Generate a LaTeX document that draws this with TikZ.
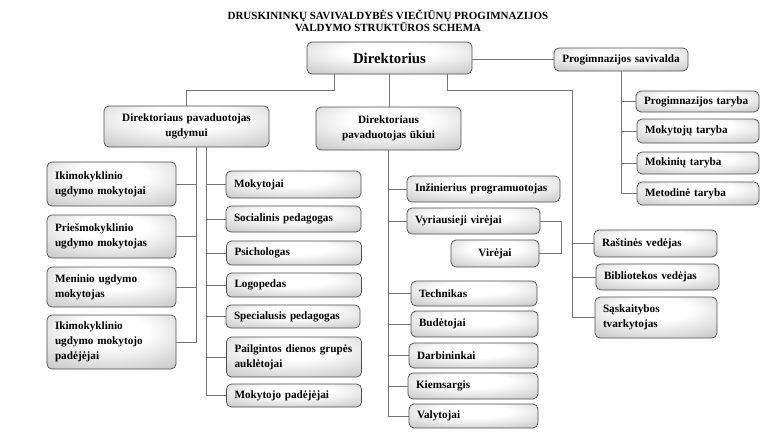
\documentclass[tikz,border=0pt]{standalone}
\usepackage{fontspec}
\setmainfont{Liberation Serif}
\pgfdeclareradialshading{boxshade}{\pgfpoint{0bp}{12bp}}{color(0bp)=(white); color(14bp)=(white); color(38bp)=(black!20); color(55bp)=(black!42); color(100bp)=(black!45)}
\tikzset{
  box/.style={draw=black!70, line width=0.7pt, rounded corners=5pt, shading=boxshade,
    inner xsep=8pt, inner ysep=0pt, font=\bfseries\fontsize{11.2}{15}\selectfont, align=left},
  conn/.style={draw=black!55, line width=0.8pt},
  titletext/.style={font=\bfseries\fontsize{11}{12}\selectfont, align=center}
}
\begin{document}
\begin{tikzpicture}[x=1pt,y=-1pt]
\useasboundingbox (0,0) rectangle (780,437);
\node[titletext] (title) at (388,21) {DRUSKININKŲ SAVIVALDYBĖS VIEČIŪNŲ PROGIMNAZIJOS\\VALDYMO STRUKTŪROS SCHEMA};

% top level
\node[box, text width=149pt, minimum height=32pt, align=center, font=\bfseries\fontsize{14.8}{17}\selectfont] (dir) at (389.5,58) {Direktorius};
\node[box, inner xsep=4pt, text width=126pt, minimum height=23pt, align=center] (sav) at (621,59.5) {Progimnazijos savivalda};

% savivalda
\node[box, text width=107pt, minimum height=21pt] (pt) at (697.5,101.5) {Progimnazijos taryba};
\node[box, text width=106pt, minimum height=24pt] (mt) at (698,131) {Mokytojų taryba};
\node[box, text width=106pt, minimum height=22pt] (mkt) at (698,163) {Mokinių taryba};
\node[box, text width=106pt, minimum height=23pt] (met) at (698,193.5) {Metodinė taryba};

% deputies
\node[box, text width=149pt, minimum height=41pt, align=center] (pu) at (186.5,126.5) {Direktoriaus pavaduotojas\\ugdymui};
\node[box, text width=129pt, minimum height=43pt, align=center] (pk) at (388.5,128.5) {Direktoriaus\\pavaduotojas ūkiui};

% left column
\node[box, text width=113pt, minimum height=44pt] (ik1) at (111.5,184) {Ikimokyklinio\\ugdymo mokytojai};
\node[box, text width=113pt, minimum height=43pt] (ik2) at (111.5,236.5) {Priešmokyklinio\\ugdymo mokytojas};
\node[box, text width=113pt, minimum height=40pt] (men) at (111.5,287) {Meninio ugdymo\\mokytojas};
\node[box, text width=113pt, minimum height=54pt] (ik3) at (111.5,342) {Ikimokyklinio\\ugdymo mokytojo\\padėjėjai};

% right of ugdymui
\node[box, text width=119pt, minimum height=27pt] (mok) at (293.5,184.5) {Mokytojai};
\node[box, text width=119pt, minimum height=26pt] (soc) at (293.5,219) {Socialinis pedagogas};
\node[box, text width=119pt, minimum height=24pt] (psi) at (294,253) {Psichologas};
\node[box, text width=119pt, minimum height=24pt] (log) at (294,285) {Logopedas};
\node[box, text width=118pt, minimum height=23pt] (spe) at (293,316.5) {Specialusis pedagogas};
\node[box, text width=119pt, minimum height=40pt] (pai) at (294,357) {Pailgintos dienos grupės\\auklėtojai};
\node[box, text width=119pt, minimum height=23pt] (mpa) at (294,395.5) {Mokytojo padėjėjai};

% ukiui column
\node[box, text width=137pt, minimum height=26pt] (inz) at (483.5,189) {Inžinierius programuotojas};
\node[box, text width=117pt, minimum height=26pt] (vyr) at (473.5,221) {Vyriausieji virėjai};
\node[box, text width=72pt, minimum height=27pt, align=center] (vir) at (495,253.5) {Virėjai};
\node[box, text width=110pt, minimum height=25pt] (tec) at (474,293.5) {Technikas};
\node[box, text width=111pt, minimum height=26pt] (bud) at (474.5,324) {Budėtojai};
\node[box, text width=113pt, minimum height=25pt] (dar) at (473.5,355.5) {Darbininkai};
\node[box, text width=114pt, minimum height=26pt] (kie) at (473,386) {Kiemsargis};
\node[box, text width=113pt, minimum height=24pt] (val) at (473.5,416) {Valytojai};

% right column
\node[box, text width=107pt, minimum height=27pt] (ras) at (655.5,243.5) {Raštinės vedėjas};
\node[box, text width=107pt, minimum height=26pt] (bib) at (657.5,277) {Bibliotekos vedėjas};
\node[box, text width=106pt, minimum height=41pt] (sas) at (656,317.5) {Sąskaitybos\\tvarkytojas};

% junction coordinates
\coordinate (j1) at (334,90);
\coordinate (j2) at (572,90);
\coordinate (lv) at ([xshift=9.5pt]pu.south);
\coordinate (rv) at ([xshift=19.5pt]pu.south);
\coordinate (vb) at (561,221);

% connectors
\draw[conn] (sav.west) -- (sav.west -| dir.east);
\draw[conn] ([xshift=-55.5pt]dir.south) -- (j1) -| (pu.north);
\draw[conn] (dir.south) -- (dir.south |- pk.north);
\draw[conn] ([xshift=57.5pt]dir.south) |- (j2) |- (sas.west);
\draw[conn] (j2) |- (ras.west);
\draw[conn] (j2) |- (bib.west);

\foreach \n in {pt,mt,mkt,met} \draw[conn] (sav.south) |- (\n.west);
\foreach \n in {ik1,ik2,men,ik3} \draw[conn] (lv) |- (\n.east);
\foreach \n in {mok,soc,psi,log,spe,pai,mpa} \draw[conn] (rv) |- (\n.west);
\foreach \n in {inz,vyr,tec,bud,dar,kie,val} \draw[conn] (pk.south) |- (\n.west);
\draw[conn] (vyr.east) -- (vb) |- (vir.east);
\end{tikzpicture}
\end{document}
